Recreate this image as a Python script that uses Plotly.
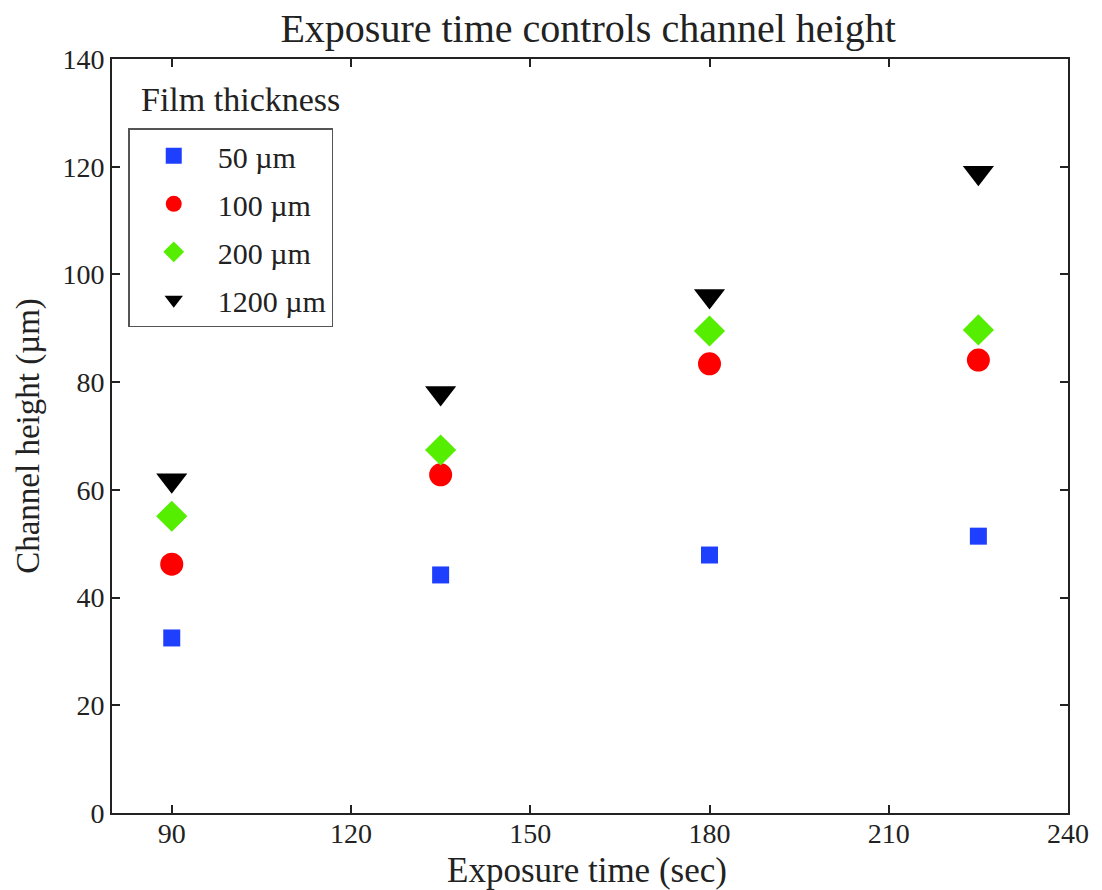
import plotly.graph_objects as go

# Exposure times (sec) and measured channel heights (µm) per film thickness
exposure_sec = [90, 135, 180, 225]
series_names = ["50 µm", "100 µm", "200 µm", "1200 µm"]
height_50 = [32.5, 44.2, 47.9, 51.4]
height_100 = [46.2, 62.8, 83.4, 84.1]
height_200 = [55.1, 67.4, 89.5, 89.7]
height_1200 = [61.8, 78.0, 96.0, 118.9]

x_ticks = [90, 120, 150, 180, 210, 240]
y_ticks = [0, 20, 40, 60, 80, 100, 120, 140]

series_values = [height_50, height_100, height_200, height_1200]
styles = [
    dict(symbol="square", color="#1f3fff", size=17),
    dict(symbol="circle", color="#ff0000", size=23),
    dict(symbol="diamond", color="#55ee00", size=24),
    dict(symbol="triangle-down", color="#000000", size=27),
]

FONT = "Liberation Serif"

fig = go.Figure()
for i, (name, vals, st) in enumerate(zip(series_names, series_values, styles)):
    fig.add_trace(go.Scatter(
        x=exposure_sec, y=vals, mode="markers", name=name,
        legendgroup=f"g{i}",
        marker=dict(symbol=st["symbol"], color=st["color"], size=st["size"],
                    line=dict(width=0)),
    ))

axis_common = dict(
    showline=True, linecolor="#222", linewidth=2, mirror="ticks",
    ticks="inside", ticklen=8, tickwidth=1.5, tickcolor="#222",
    showgrid=False, zeroline=False,
    tickfont=dict(family=FONT, size=28, color="#222"),
)

fig.update_layout(
    width=1102, height=890,
    margin=dict(l=112, r=34, t=59, b=77),
    paper_bgcolor="white", plot_bgcolor="white",
    title=dict(text="Exposure time controls channel height",
               x=0.498, xref="paper", xanchor="center",
               y=0.969, yanchor="middle",
               font=dict(family=FONT, size=40, color="#222")),
    xaxis=dict(range=[80, 240], tickvals=x_ticks, ticklabelstandoff=-6,
               **axis_common),
    yaxis=dict(range=[0, 140], tickvals=y_ticks,
               title=dict(text="Channel height (µm)", standoff=13,
                          font=dict(family=FONT, size=33, color="#222")),
               **axis_common),
    showlegend=True,
    legend=dict(x=0.017, y=0.908, xanchor="left", yanchor="top",
                bordercolor="#555", borderwidth=1.5, bgcolor="white",
                font=dict(family=FONT, size=30, color="#222"),
                tracegroupgap=6, itemwidth=78),
    annotations=[
        dict(text="Film thickness", xref="paper", yref="paper",
             x=0.028, y=0.919, xanchor="left", yanchor="bottom",
             showarrow=False,
             font=dict(family=FONT, size=34, color="#222")),
        dict(text="Exposure time (sec)", xref="paper", yref="paper",
             x=0.497, y=-0.0756, xanchor="center", yanchor="middle",
             showarrow=False,
             font=dict(family=FONT, size=35, color="#222")),
    ],
)

fig.write_html("out.html")
